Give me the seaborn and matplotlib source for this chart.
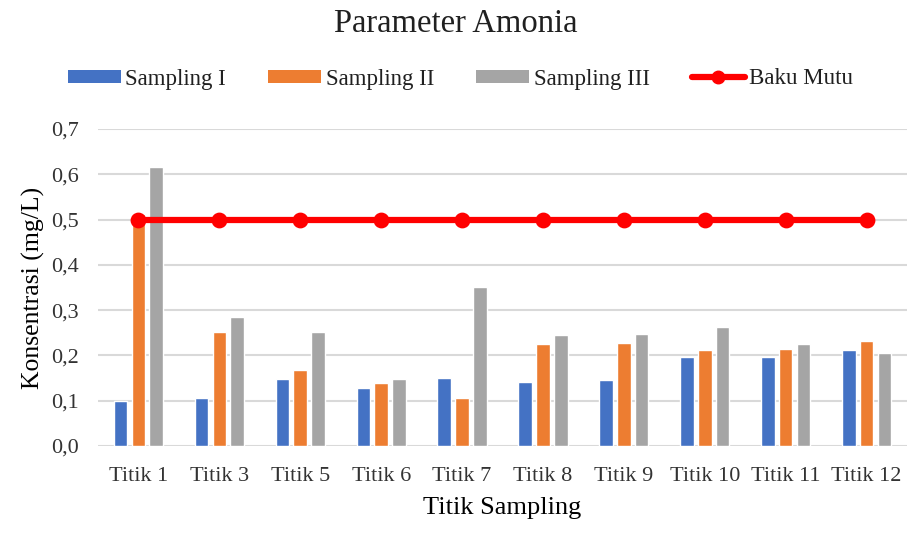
import matplotlib
matplotlib.use("Agg")
import matplotlib.pyplot as plt
import seaborn as sns
import pandas as pd
from matplotlib.patches import Patch
from matplotlib.lines import Line2D

categories = ["Titik 1", "Titik 3", "Titik 5", "Titik 6", "Titik 7",
              "Titik 8", "Titik 9", "Titik 10", "Titik 11", "Titik 12"]
sampling_1 = [0.100, 0.105, 0.148, 0.128, 0.151, 0.142, 0.145, 0.196, 0.196, 0.211]
sampling_2 = [0.513, 0.251, 0.168, 0.140, 0.105, 0.225, 0.227, 0.211, 0.214, 0.231]
sampling_3 = [0.616, 0.285, 0.251, 0.148, 0.351, 0.245, 0.248, 0.262, 0.225, 0.205]
baku_mutu = [0.5] * len(categories)
series_names = ["Sampling I", "Sampling II", "Sampling III"]
yticks = [0.0, 0.1, 0.2, 0.3, 0.4, 0.5, 0.6, 0.7]
ytick_labels = ["0,0", "0,1", "0,2", "0,3", "0,4", "0,5", "0,6", "0,7"]

colors = ["#4472C4", "#ED7D31", "#A5A5A5"]
red = "#FF0000"

rows = []
for name, vals in zip(series_names, [sampling_1, sampling_2, sampling_3]):
    for c, v in zip(categories, vals):
        rows.append({"Titik": c, "Konsentrasi": v, "Seri": name})
df = pd.DataFrame(rows)
df_bm = pd.DataFrame({"Titik": categories, "Baku": baku_mutu})

sns.set_theme(style="white")
plt.rcParams["font.family"] = ["Liberation Serif", "DejaVu Serif"]

fig = plt.figure(figsize=(9.12, 5.34), dpi=100)
ax = fig.add_axes([98 / 912, 88 / 534, 809 / 912, 317 / 534])

sns.barplot(data=df, x="Titik", y="Konsentrasi", hue="Seri", order=categories,
            hue_order=series_names, palette=colors, width=0.66, gap=0.24,
            saturation=1, errorbar=None, legend=False, ax=ax, zorder=2)
sns.pointplot(data=df_bm, x="Titik", y="Baku", order=categories, color=red,
              markers="o", markersize=8, linewidth=4.5, errorbar=None, ax=ax)
for line in ax.lines:
    line.set_zorder(4)
for coll in ax.collections:
    coll.set_zorder(5)

ax.set_xlim(-0.5, len(categories) - 0.5)
ax.set_ylim(0, 0.7)
ax.set_yticks(yticks)
ax.set_yticklabels(ytick_labels)
ax.yaxis.grid(True, color="#D9D9D9", linewidth=1.5, zorder=0)
ax.set_axisbelow(True)
for s in ax.spines.values():
    s.set_visible(False)
ax.tick_params(axis="both", length=0, labelsize=16, colors="#333333")
ax.tick_params(axis="y", pad=14)
ax.tick_params(axis="x", pad=15)
ax.set_xlabel("Titik Sampling", fontsize=19, color="#000000", labelpad=8)
ax.set_ylabel("Konsentrasi (mg/L)", fontsize=18.5, color="#000000", labelpad=4)

fig.suptitle("Parameter Amonia", fontsize=23.5, y=1 - 24 / 534, va="center", color="#202020")

handles = [Patch(facecolor=c, edgecolor="none") for c in colors]
handles.append(Line2D([0], [0], color=red, linewidth=4.5, marker="o", markersize=9))
leg = fig.legend(handles, series_names + ["Baku Mutu"], loc="center",
                 bbox_to_anchor=(0.505, 1 - 79 / 534), ncol=4, frameon=False,
                 fontsize=16.5, handlelength=2.3, handleheight=0.5,
                 handletextpad=0.2, columnspacing=1.85)
for t in leg.get_texts():
    t.set_color("#202020")

fig.savefig("out.png", dpi=100)
